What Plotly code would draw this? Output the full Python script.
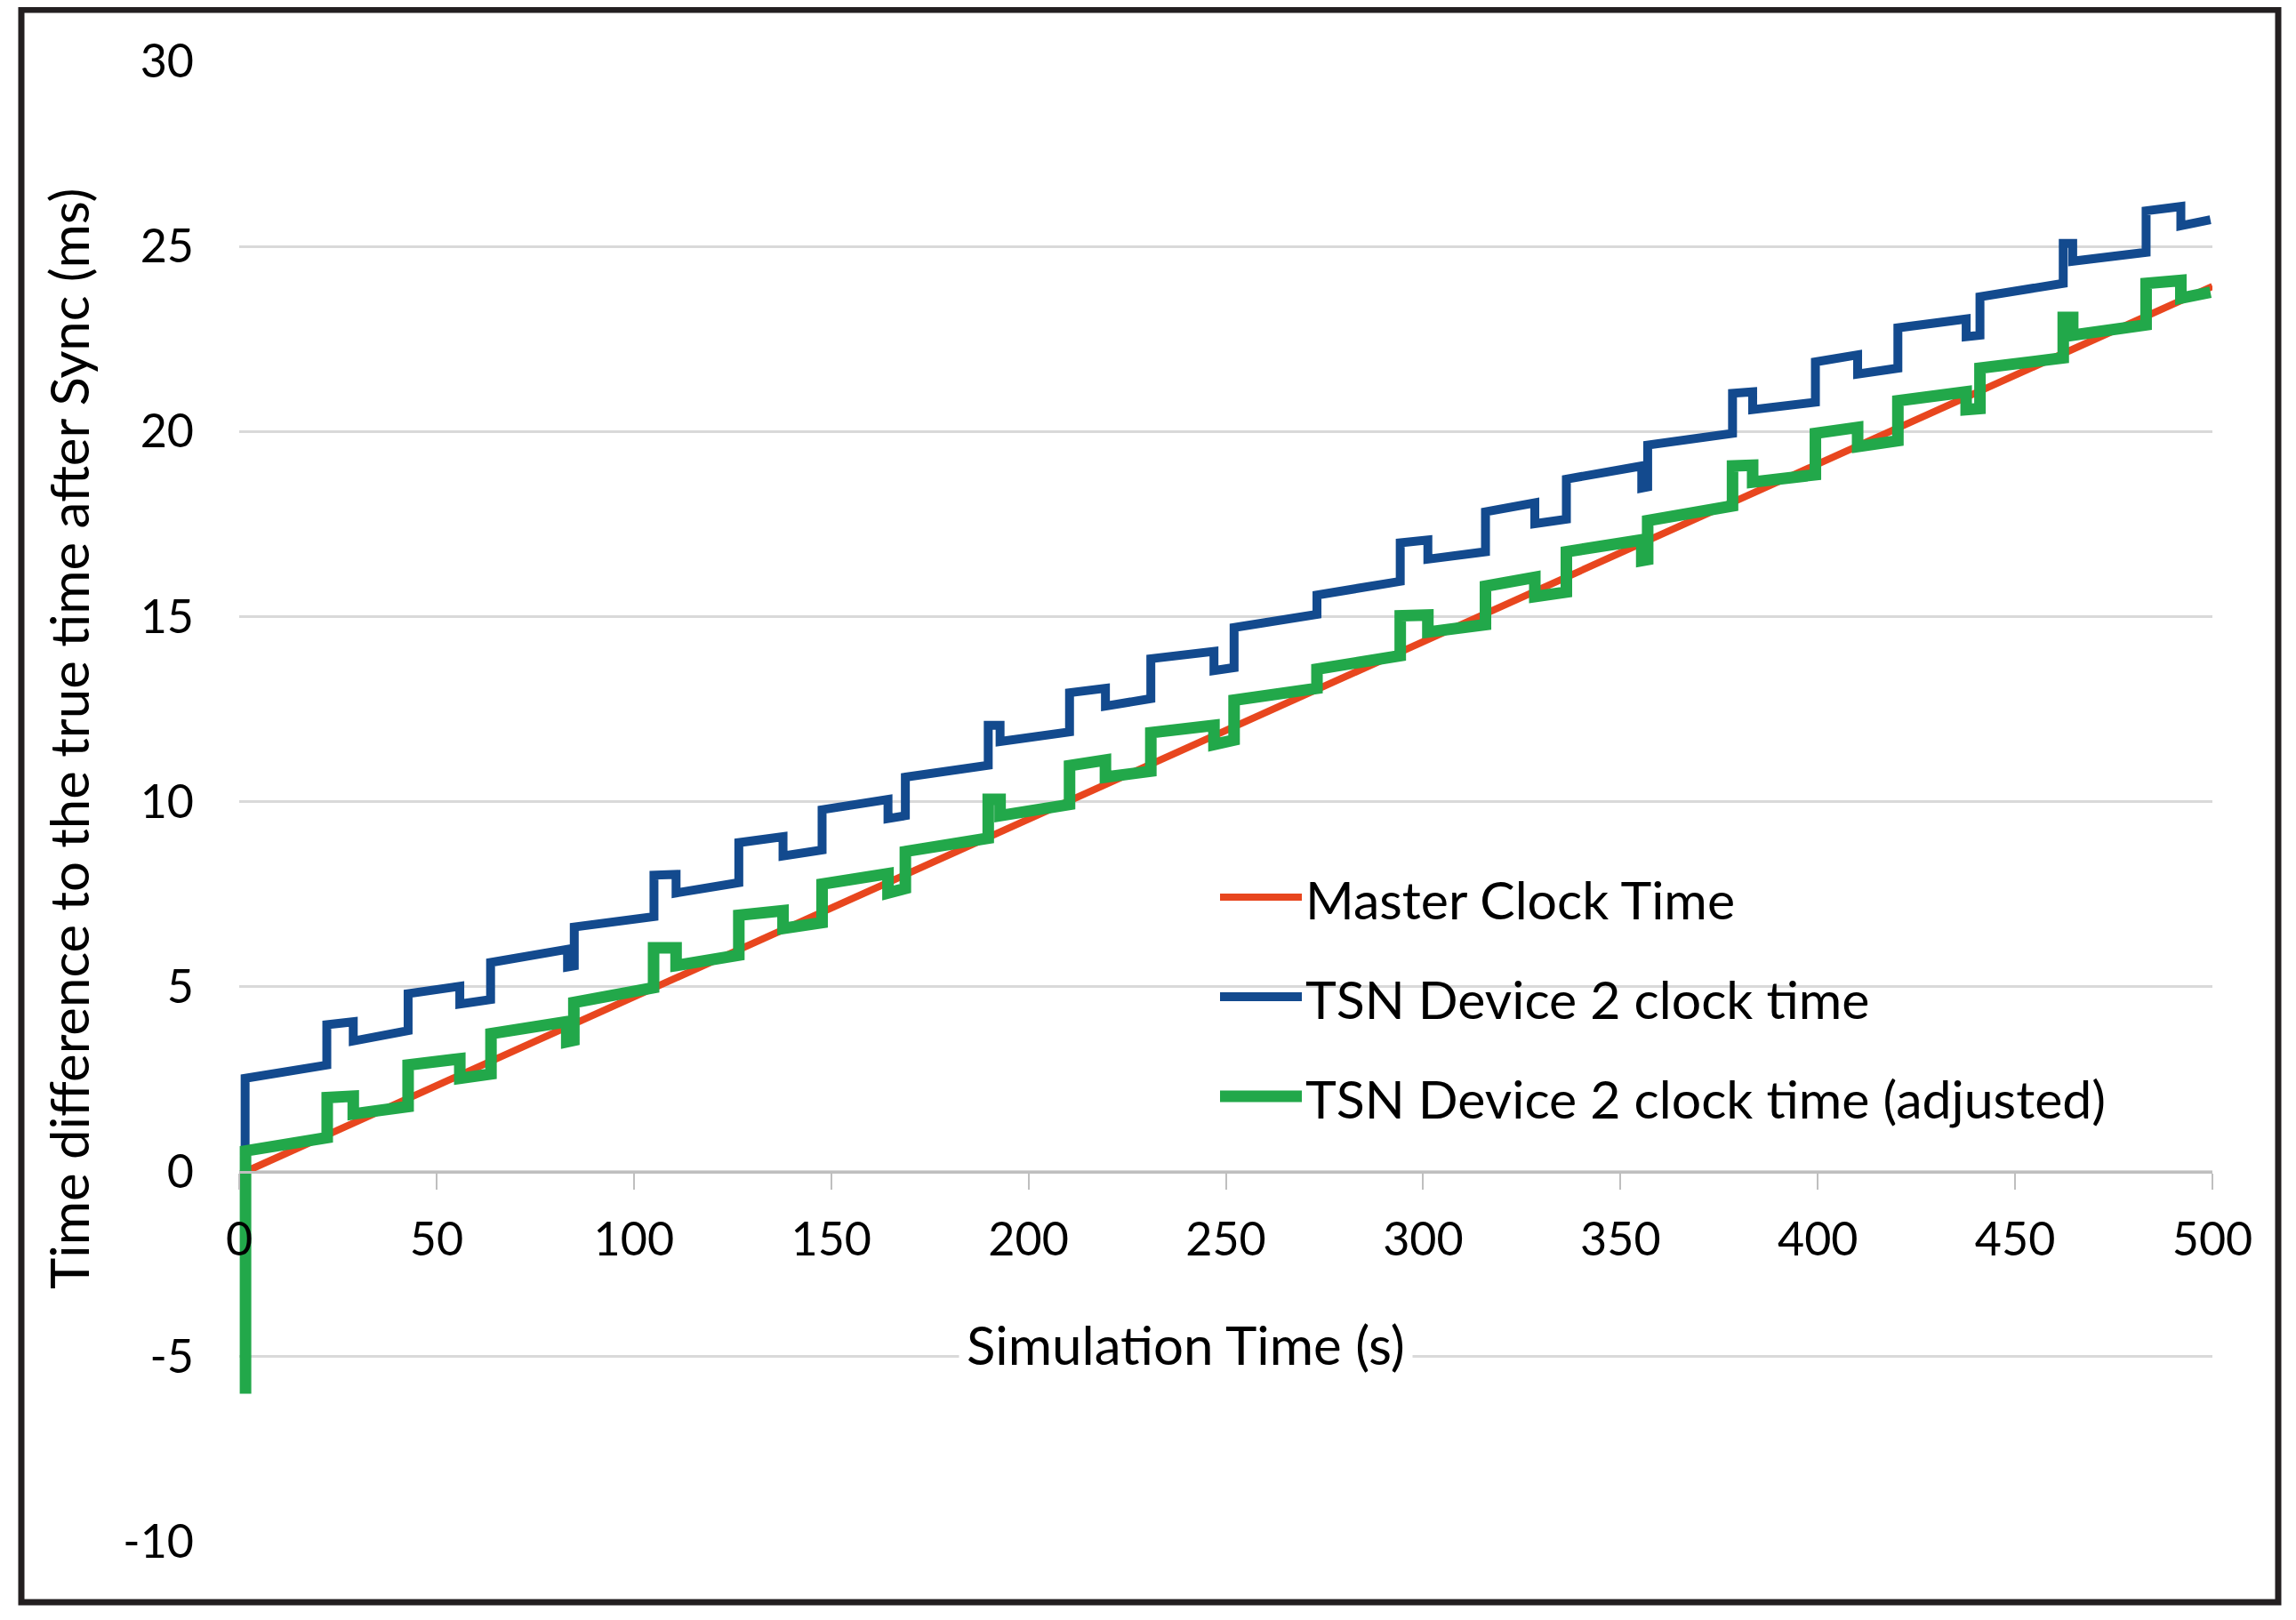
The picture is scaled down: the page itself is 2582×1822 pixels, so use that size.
import plotly.graph_objects as go

# ---------------- data ----------------
master_x = [1.6, 500.0]
master_y = [0.0, 23.92]

tsn_x = [1.5, 1.5, 22.2, 22.2, 28.9, 28.9, 42.8, 42.8, 55.9, 55.9, 63.7, 63.7,
         83.2, 83.2, 84.9, 84.9, 105.1, 105.1, 110.7, 110.7, 126.6, 126.6,
         137.8, 137.8, 147.7, 147.7, 164.4, 164.4, 168.8, 168.8, 189.8, 189.8,
         192.8, 192.8, 210.4, 210.4, 219.5, 219.5, 231.0, 231.0, 247.0, 247.0,
         252.1, 252.1, 273.1, 273.1, 294.2, 294.2, 301.2, 301.2, 315.8, 315.8,
         328.3, 328.3, 336.3, 336.3, 355.4, 355.4, 356.9, 356.9, 378.4, 378.4,
         383.5, 383.5, 399.4, 399.4, 410.1, 410.1, 420.3, 420.3, 437.6, 437.6,
         441.1, 441.1, 462.2, 462.2, 464.6, 464.6, 483.2, 483.2, 492.0, 492.0,
         499.5]
tsn_y = [0.5, 2.52, 2.88, 3.97, 4.05, 3.53, 3.81, 4.81, 5.01, 4.53, 4.65, 5.65,
         6.01, 5.53, 5.56, 6.61, 6.89, 8.01, 8.03, 7.53, 7.81, 8.89,
         9.05, 8.53, 8.69, 9.78, 10.06, 9.54, 9.62, 10.66, 10.98, 12.06,
         12.06, 11.62, 11.88, 12.94, 13.06, 12.58, 12.78, 13.86, 14.06, 13.54,
         13.62, 14.70, 15.06, 15.58, 15.95, 16.99, 17.07, 16.55, 16.75, 17.83,
         18.07, 17.51, 17.63, 18.71, 19.07, 18.47, 18.50, 19.63, 19.95, 21.03,
         21.07, 20.59, 20.79, 21.88, 22.07, 21.55, 21.71, 22.80, 23.04, 22.56,
         22.60, 23.64, 24.00, 25.08, 25.08, 24.60, 24.84, 25.96, 26.08, 25.56,
         25.72]

adj_x = [1.6, 1.6, 22.3, 22.3, 28.9, 28.9, 42.8, 42.8, 55.9, 55.9, 63.8, 63.8,
         83.0, 83.0, 84.8, 84.8, 105.0, 105.0, 110.7, 110.7, 126.6, 126.6,
         137.8, 137.8, 147.7, 147.7, 164.4, 164.4, 168.8, 168.8, 189.8, 189.8,
         192.8, 192.8, 210.4, 210.4, 219.5, 219.5, 231.0, 231.0, 247.0, 247.0,
         252.1, 252.1, 273.1, 273.1, 294.2, 294.2, 301.2, 301.2, 315.8, 315.8,
         328.3, 328.3, 336.3, 336.3, 355.4, 355.4, 356.9, 356.9, 378.4, 378.4,
         383.5, 383.5, 399.4, 399.4, 410.1, 410.1, 420.3, 420.3, 437.6, 437.6,
         441.1, 441.1, 462.2, 462.2, 464.6, 464.6, 483.2, 483.2, 492.0, 492.0,
         499.5]
adj_y = [-6.0, 0.56, 0.92, 2.00, 2.04, 1.56, 1.76, 2.88, 3.05, 2.52, 2.64, 3.73,
         4.05, 3.51, 3.55, 4.57, 4.97, 6.05, 6.05, 5.57, 5.85, 6.93,
         7.05, 6.57, 6.73, 7.77, 8.05, 7.53, 7.65, 8.65, 9.01, 10.06,
         10.06, 9.62, 9.92, 10.97, 11.12, 10.66, 10.82, 11.86, 12.06, 11.54,
         11.66, 12.74, 13.06, 13.58, 13.94, 15.02, 15.04, 14.58, 14.78, 15.82,
         16.06, 15.54, 15.66, 16.75, 17.07, 16.51, 16.54, 17.59, 17.99, 19.07,
         19.09, 18.63, 18.83, 19.95, 20.11, 19.59, 19.75, 20.83, 21.07, 20.59,
         20.62, 21.71, 21.99, 23.08, 23.08, 22.60, 22.88, 24.00, 24.08, 23.60,
         23.76]

series_names = ["Master Clock Time", "TSN Device 2 clock time",
                "TSN Device 2 clock time (adjusted)"]
x_title = "Simulation Time (s)"
y_title = "Time difference to the true time after Sync (ms)"
x_tick_vals = [0, 50, 100, 150, 200, 250, 300, 350, 400, 450, 500]
x_tick_text = ["0", "50", "100", "150", "200", "250", "300", "350", "400", "450", "500"]
y_tick_vals = [-10, -5, 0, 5, 10, 15, 20, 25, 30]
y_tick_text = ["-10", "-5", "0", "5", "10", "15", "20", "25", "30"]

# ---------------- style ----------------
RED = "#E8461E"
BLUE = "#134A8E"
GREEN = "#22A84A"
FONT = "Lato"
OFF = 8                                   # page body margin in the browser
W, H = 2582 - OFF, 1822 - OFF
L, R, T, B = 269 - OFF, 2488 - OFF, 69 - OFF, 1734 - OFF   # plot area (figure px)
pw, ph = R - L, B - T


def px(xp):
    """page pixel x -> paper fraction"""
    return (xp - OFF - L) / pw


def py(yp):
    """page pixel y -> paper fraction"""
    return (B - (yp - OFF)) / ph


fig = go.Figure()
fig.add_trace(go.Scatter(x=master_x, y=master_y, mode="lines", name=series_names[0],
                         line=dict(color=RED, width=8)))
fig.add_trace(go.Scatter(x=tsn_x, y=tsn_y, mode="lines", name=series_names[1],
                         line=dict(color=BLUE, width=10)))
fig.add_trace(go.Scatter(x=adj_x, y=adj_y, mode="lines", name=series_names[2],
                         line=dict(color=GREEN, width=13)))

shapes = [
    dict(type="rect", xref="paper", yref="paper",
         x0=px(24), x1=px(2562), y0=py(1802), y1=py(11),
         line=dict(color="#231F20", width=7), fillcolor="rgba(0,0,0,0)", layer="above"),
]
annotations = []
legend_rows = [(series_names[0], RED, 8, 1009),
               (series_names[1], BLUE, 10, 1121),
               (series_names[2], GREEN, 13, 1233)]
for name, col, wdt, yy in legend_rows:
    shapes.append(dict(type="line", xref="paper", yref="paper",
                       x0=px(1372), x1=px(1464), y0=py(yy), y1=py(yy),
                       line=dict(color=col, width=wdt)))
    annotations.append(dict(text=name, xref="paper", yref="paper",
                            x=px(1466), y=py(yy + 2), xanchor="left", yanchor="middle",
                            showarrow=False, font=dict(family=FONT, size=59, color="black")))

annotations.append(dict(text=x_title, xref="paper", yref="paper",
                        x=px(1333), y=py(1512), xanchor="center", yanchor="middle",
                        showarrow=False, bgcolor="white", borderpad=8,
                        font=dict(family=FONT, size=60, color="black")))
annotations.append(dict(text=y_title, xref="paper", yref="paper",
                        x=px(77), y=py(831), xanchor="center", yanchor="middle",
                        textangle=-90, showarrow=False,
                        font=dict(family=FONT, size=60, color="black")))

fig.update_layout(
    width=W, height=H,
    margin=dict(l=L, r=W - R, t=T, b=H - B, pad=0),
    paper_bgcolor="white", plot_bgcolor="white",
    showlegend=False,
    font=dict(family=FONT, size=52, color="black"),
    shapes=shapes, annotations=annotations,
    xaxis=dict(range=[0, 500], tickmode="array", tickvals=x_tick_vals, ticktext=x_tick_text,
               anchor="free", position=0.25,
               showgrid=False, zeroline=False, showline=True,
               linecolor="#BFBFBF", linewidth=3,
               ticks="outside", ticklen=18, tickwidth=2, tickcolor="#BFBFBF",
               ticklabelstandoff=12,
               tickfont=dict(family=FONT, size=52, color="black")),
    yaxis=dict(range=[-10, 30], tickmode="array", tickvals=y_tick_vals, ticktext=y_tick_text,
               showgrid=True, gridcolor="#D9D9D9", gridwidth=3,
               zeroline=False, showline=False, ticks="",
               ticklabelstandoff=50,
               tickfont=dict(family=FONT, size=52, color="black")),
)

fig.write_html("out.html")
